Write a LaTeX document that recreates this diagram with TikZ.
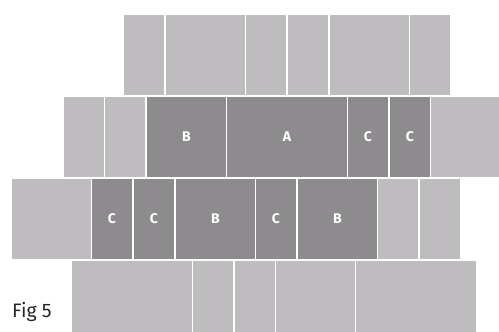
\documentclass[tikz,border=0pt]{standalone}
\usepackage{fontspec}
\setmainfont{Fira Sans}
\definecolor{lightg}{HTML}{BEBCBF}
\definecolor{darkg}{HTML}{8E8B8E}
\begin{document}
\begin{tikzpicture}[x=1pt,y=-1pt,
  blk/.style={inner sep=0pt,outer sep=0pt,draw=none,minimum height=80pt,text=white,font=\fontsize{14}{16}\selectfont\bfseries},
  lb/.style={blk,fill=lightg},
  db/.style={blk,fill=darkg}]
\useasboundingbox (0,0) rectangle (499,332);
% row 1
\node[lb,minimum width=40pt] (r1a) at (144,55) {};
\node[lb,minimum width=79pt] (r1b) at (205.5,55) {};
\node[lb,minimum width=40pt] (r1c) at (266,55) {};
\node[lb,minimum width=40pt] (r1d) at (308,55) {};
\node[lb,minimum width=79pt] (r1e) at (369.5,55) {};
\node[lb,minimum width=40pt] (r1f) at (430,55) {};
% row 2
\node[lb,minimum width=40pt] (r2a) at (84,137) {};
\node[lb,minimum width=40pt] (r2b) at (125,137) {};
\node[db,minimum width=79pt] (r2c) at (186.5,137) {B};
\node[db,minimum width=120pt] (r2d) at (287,137) {A};
\node[db,minimum width=40pt] (r2e) at (368,137) {C};
\node[db,minimum width=40pt] (r2f) at (410,137) {C};
\node[lb,minimum width=68pt] (r2g) at (465,137) {};
% row 3
\node[lb,minimum width=79pt] (r3a) at (51.5,219) {};
\node[db,minimum width=40pt] (r3b) at (112,219) {C};
\node[db,minimum width=40pt] (r3c) at (154,219) {C};
\node[db,minimum width=79pt] (r3d) at (215.5,219) {B};
\node[db,minimum width=40pt] (r3e) at (276,219) {C};
\node[db,minimum width=79pt] (r3f) at (337.5,219) {B};
\node[lb,minimum width=40pt] (r3g) at (398,219) {};
\node[lb,minimum width=40pt] (r3h) at (440,219) {};
% row 4
\node[lb,minimum width=120pt,minimum height=71pt] (r4a) at (132,296.5) {};
\node[lb,minimum width=40pt,minimum height=71pt] (r4b) at (213,296.5) {};
\node[lb,minimum width=40pt,minimum height=71pt] (r4c) at (255,296.5) {};
\node[lb,minimum width=79pt,minimum height=71pt] (r4d) at (315.5,296.5) {};
\node[lb,minimum width=120pt,minimum height=71pt] (r4e) at (416,296.5) {};
% caption
\node[anchor=base west,inner sep=0pt,text=black!85,font=\fontsize{19.5}{22}\selectfont] (cap) at (12,317) {Fig 5};
\end{tikzpicture}
\end{document}
